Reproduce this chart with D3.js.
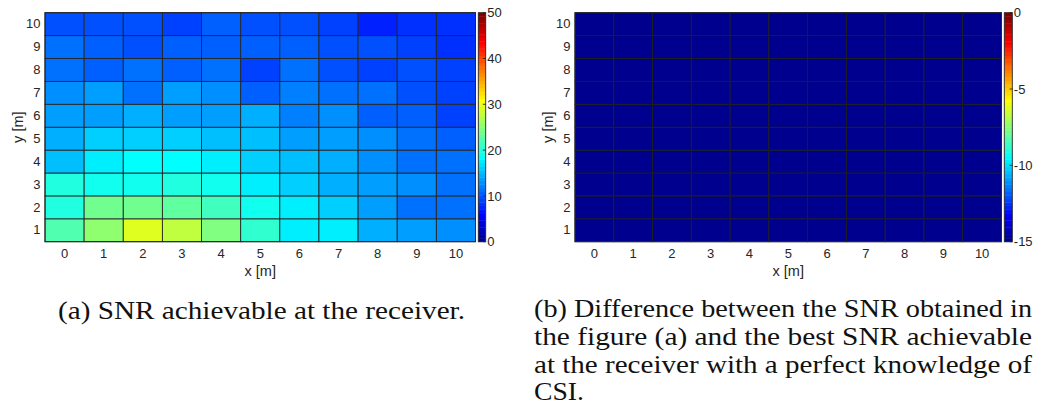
<!DOCTYPE html>
<html>
<head>
<meta charset="utf-8">
<script src="https://cdn.jsdelivr.net/npm/d3@7"></script>
<style>
  html, body { margin: 0; padding: 0; background: #fff; }
  svg { display: block; }
  .tick text { font-family: "Liberation Sans", Arial, sans-serif; font-size: 13px; fill: #262626; }
</style>
</head>
<body>
<svg id="chart" width="1049" height="417"></svg>
<script>
// ---------------- DATA ----------------
const xCats = [0, 1, 2, 3, 4, 5, 6, 7, 8, 9, 10];
const yCats = [1, 2, 3, 4, 5, 6, 7, 8, 9, 10];

// SNR achievable at the receiver [dB]; rows listed from y = 1 to y = 10, columns x = 0..10
const snrRows = [
  [22.3, 25.4, 29.3, 27.8, 24.6, 20.7, 17.6, 17.6, 14.5, 13.7, 12.9], // y=1
  [19.9, 23.9, 23.9, 23.1, 21.5, 19.1, 17.2, 15.7, 13.3, 11.4, 11.0], // y=2
  [19.9, 18.8, 19.1, 19.9, 19.1, 17.6, 15.7, 14.1, 13.3, 12.5, 11.4], // y=3
  [15.3, 17.6, 18.4, 18.4, 17.6, 15.7, 14.9, 14.1, 12.9, 11.7, 11.7], // y=4
  [14.1, 15.7, 15.7, 15.7, 14.9, 15.3, 13.7, 13.7, 12.9, 11.4, 10.6], // y=5
  [13.7, 13.5, 14.5, 13.7, 13.5, 14.5, 12.1, 12.5, 10.6, 10.2,  9.0], // y=6
  [12.5, 13.5, 11.7, 13.7, 12.9, 10.2, 12.1, 11.4, 11.0,  9.8,  9.0], // y=7
  [11.7, 10.8, 11.6, 10.6, 11.0,  9.2, 11.0,  9.4,  9.2,  9.6,  9.0], // y=8
  [11.0, 10.2, 10.0, 10.6, 10.2, 10.5, 10.3,  9.7,  9.4,  9.0,  8.2], // y=9
  [ 9.6,  9.8,  9.4,  9.3, 10.4,  9.6,  9.8,  9.0,  7.8,  8.0,  8.2]  // y=10
];

// Difference to the best SNR with perfect CSI [dB] (at or below the colour floor everywhere)
const diffRows = [
  [-15, -15, -15, -15, -15, -15, -15, -15, -15, -15, -15],
  [-15, -15, -15, -15, -15, -15, -15, -15, -15, -15, -15],
  [-15, -15, -15, -15, -15, -15, -15, -15, -15, -15, -15],
  [-15, -15, -15, -15, -15, -15, -15, -15, -15, -15, -15],
  [-15, -15, -15, -15, -15, -15, -15, -15, -15, -15, -15],
  [-15, -15, -15, -15, -15, -15, -15, -15, -15, -15, -15],
  [-15, -15, -15, -15, -15, -15, -15, -15, -15, -15, -15],
  [-15, -15, -15, -15, -15, -15, -15, -15, -15, -15, -15],
  [-15, -15, -15, -15, -15, -15, -15, -15, -15, -15, -15],
  [-15, -15, -15, -15, -15, -15, -15, -15, -15, -15, -15]
];

const snrRange = [0, 50];
const snrTicks = [0, 10, 20, 30, 40, 50];
const diffRange = [-15, 0];
const diffTicks = [-15, -10, -5, 0];

const captionA = "(a) SNR achievable at the receiver.";
const captionB = [
  "(b) Difference between the SNR obtained in",
  "the figure (a) and the best SNR achievable",
  "at the receiver with a perfect knowledge of",
  "CSI."
];

// ---------------- COLORMAP (MATLAB jet, 64 entries) ----------------
function jetMap(m) {
  const n = Math.ceil(m / 4);
  const u = [];
  for (let i = 1; i <= n; i++) u.push(i / n);
  for (let i = 0; i < n - 1; i++) u.push(1);
  for (let i = n; i >= 1; i--) u.push(i / n);
  const gOff = Math.ceil(n / 2) - (m % 4 === 1 ? 1 : 0);
  const cols = Array.from({ length: m }, () => [0, 0, 0]);
  u.forEach((val, i) => {
    const g = gOff + i + 1, r = g + n, b = g - n;
    if (r >= 1 && r <= m) cols[r - 1][0] = val;
    if (g >= 1 && g <= m) cols[g - 1][1] = val;
    if (b >= 1 && b <= m) cols[b - 1][2] = val;
  });
  return cols.map(c => d3.rgb(c[0] * 255, c[1] * 255, c[2] * 255).formatHex());
}
const JET = jetMap(64);
function colorFor(v, range) {
  const m = JET.length;
  let idx = Math.floor((v - range[0]) / (range[1] - range[0]) * m);
  idx = Math.max(0, Math.min(m - 1, idx));
  return JET[idx];
}

// ---------------- DRAW ----------------
const svg = d3.select("#chart");

function panel(cfg) {
  const { px, py, pw, ph, rows, range, ticks, cbx, cbw, gridColor } = cfg;
  const g = svg.append("g");

  const x = d3.scaleBand().domain(xCats).range([px, px + pw]).padding(0);
  const y = d3.scaleBand().domain(yCats).range([py + ph, py]).padding(0);

  const cells = [];
  rows.forEach((row, ri) => row.forEach((v, ci) => cells.push({ x: xCats[ci], y: yCats[ri], v })));

  g.append("g").selectAll("rect").data(cells).join("rect")
    .attr("x", d => x(d.x))
    .attr("y", d => y(d.y))
    .attr("width", x.bandwidth())
    .attr("height", y.bandwidth())
    .attr("fill", d => colorFor(d.v, range))
    .attr("stroke", gridColor)
    .attr("stroke-width", 0.9);

  // axes box
  g.append("rect")
    .attr("x", px).attr("y", py).attr("width", pw).attr("height", ph)
    .attr("fill", "none").attr("stroke", "#262626").attr("stroke-width", 1);

  // x axis
  const xa = g.append("g").attr("transform", `translate(0,${py + ph})`)
    .call(d3.axisBottom(x).tickSize(0).tickPadding(7));
  xa.select(".domain").remove();

  // y axis
  const ya = g.append("g").attr("transform", `translate(${px},0)`)
    .call(d3.axisLeft(y).tickSize(0).tickPadding(4.5));
  ya.select(".domain").remove();

  // axis labels
  g.append("text")
    .attr("x", px + pw / 2).attr("y", py + ph + 34)
    .attr("text-anchor", "middle")
    .style("font-family", "'Liberation Sans', Arial, sans-serif")
    .style("font-size", "14.5px").style("fill", "#262626")
    .text("x [m]");
  g.append("text")
    .attr("transform", `translate(${px - 22},${py + ph / 2}) rotate(-90)`)
    .attr("text-anchor", "middle")
    .style("font-family", "'Liberation Sans', Arial, sans-serif")
    .style("font-size", "14.5px").style("fill", "#262626")
    .text("y [m]");

  // colorbar
  const cs = d3.scaleLinear().domain(range).range([py + ph, py]);
  const m = JET.length;
  const steps = d3.range(m).map(i => range[0] + (range[1] - range[0]) * i / m);
  const stepH = (range[1] - range[0]) / m;
  g.append("g").selectAll("rect").data(steps).join("rect")
    .attr("x", cbx)
    .attr("y", d => cs(d + stepH))
    .attr("width", cbw)
    .attr("height", d => cs(d) - cs(d + stepH) + 0.4)
    .attr("fill", d => colorFor(d + stepH / 2, range));
  g.append("rect")
    .attr("x", cbx).attr("y", py).attr("width", cbw).attr("height", ph)
    .attr("fill", "none").attr("stroke", "#262626").attr("stroke-width", 0.9);
  // inner tick marks
  g.append("g").selectAll("line").data(ticks).join("line")
    .attr("x1", cbx + cbw - 2.8).attr("x2", cbx + cbw)
    .attr("y1", d => cs(d)).attr("y2", d => cs(d))
    .attr("stroke", "#262626").attr("stroke-width", 0.9);
  const ca = g.append("g").attr("transform", `translate(${cbx + cbw},0)`)
    .call(d3.axisRight(cs).tickValues(ticks).tickSize(0).tickPadding(1.5).tickFormat(d3.format("d")));
  ca.select(".domain").remove();
  ca.selectAll("text").text(d => String(d).replace("\u2212", "-"));
}

panel({ px: 45, py: 12.7, pw: 430.5, ph: 229, rows: snrRows, range: snrRange, ticks: snrTicks,
        cbx: 478.3, cbw: 7.4, gridColor: "#262626" });
panel({ px: 575, py: 12.7, pw: 426.5, ph: 229, rows: diffRows, range: diffRange, ticks: diffTicks,
        cbx: 1004.3, cbw: 8, gridColor: "#1e1e1e" });

// captions
const capFont = "'Liberation Serif', 'Times New Roman', serif";
svg.append("text")
  .attr("x", 58).attr("y", 319)
  .attr("textLength", 407).attr("lengthAdjust", "spacingAndGlyphs")
  .style("font-family", capFont).style("font-size", "26px").style("fill", "#111")
  .text(captionA);

const lineH = 27.8;
captionB.forEach((line, i) => {
  const t = svg.append("text")
    .attr("x", 534).attr("y", 317 + i * lineH)
    .style("font-family", capFont).style("font-size", "26px").style("fill", "#111")
    .text(line);
  if (i < captionB.length - 1) t.attr("textLength", 498).attr("lengthAdjust", "spacingAndGlyphs");
  else t.attr("textLength", 50).attr("lengthAdjust", "spacingAndGlyphs");
});
</script>
</body>
</html>
